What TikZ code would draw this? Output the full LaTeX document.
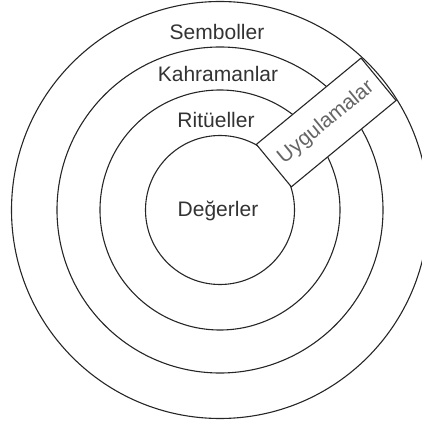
\documentclass[tikz,border=0pt]{standalone}
\usepackage{fontspec}
\setmainfont{Liberation Sans}
\usepackage{tikz}
\usetikzlibrary{positioning}

\begin{document}
\begin{tikzpicture}[
    ring/.style={circle, draw=black!85, line width=1.1pt, inner sep=0pt},
    lbl/.style={anchor=base, text=black!80, font=\fontsize{21}{25}\selectfont},
    band/.style={rectangle, draw=black!85, line width=1.1pt, fill=white,
                 rotate=39.5, minimum width=135.7pt, minimum height=55pt,
                 inner sep=0pt, text=black!60, font=\fontsize{21}{25}\selectfont}]
    \useasboundingbox (-220pt,-215pt) rectangle (202pt,210pt);
    % layers, outside in
    \node[ring, minimum size=417pt] (semb) at (0,0) {};
    \node[ring, minimum size=326pt] (kahr) at (0,0) {};
    \node[ring, minimum size=240pt] (ritu) at (0,0) {};
    \node[ring, minimum size=149pt] (deg) at (0,0) {};
    \node[lbl] (tsemb) at (-3pt,170pt) {Semboller};
    \node[lbl] (tkahr) at (-2pt,128pt) {Kahramanlar};
    \node[lbl] (tritu) at (-4pt,82pt) {Ritüeller};
    \node[lbl] (tdeg) at (-2pt,-7pt) {Değerler};
    % practices cut through the layers
    \node[band] (uyg) at (39.5:137.65pt) {Uygulamalar};
\end{tikzpicture}
\end{document}
